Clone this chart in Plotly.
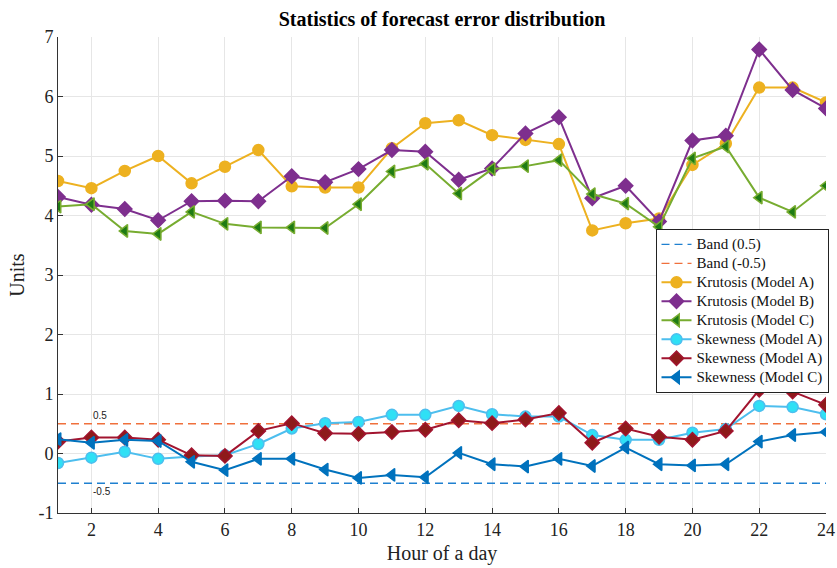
import plotly.graph_objects as go

hours = list(range(1, 25))

kurtosis_a = [4.58, 4.46, 4.75, 5.0, 4.54, 4.82, 5.1, 4.49, 4.47, 4.47, 5.13, 5.55,
              5.6, 5.35, 5.27, 5.2, 3.75, 3.87, 3.95, 4.85, 5.21, 6.15, 6.15, 5.9]
kurtosis_b = [4.31, 4.18, 4.11, 3.92, 4.24, 4.25, 4.24, 4.66, 4.56, 4.78, 5.1, 5.07,
              4.6, 4.79, 5.38, 5.65, 4.29, 4.5, 3.9, 5.26, 5.34, 6.79, 6.11, 5.8]
kurtosis_c = [4.15, 4.19, 3.74, 3.69, 4.06, 3.86, 3.8, 3.8, 3.79, 4.19, 4.74, 4.87,
              4.37, 4.78, 4.83, 4.93, 4.36, 4.2, 3.81, 4.96, 5.16, 4.3, 4.06, 4.5]
skewness_a = [-0.16, -0.07, 0.03, -0.09, -0.05, -0.03, 0.16, 0.42, 0.51, 0.53, 0.65, 0.65,
              0.8, 0.66, 0.62, 0.62, 0.31, 0.23, 0.23, 0.35, 0.41, 0.8, 0.78, 0.66]
skewness_a2 = [0.2, 0.27, 0.27, 0.23, -0.03, -0.04, 0.38, 0.51, 0.34, 0.33, 0.36, 0.4,
               0.56, 0.51, 0.57, 0.68, 0.18, 0.42, 0.28, 0.23, 0.38, 1.07, 1.04, 0.82]
skewness_c = [0.24, 0.18, 0.23, 0.21, -0.14, -0.28, -0.09, -0.09, -0.27, -0.41, -0.36, -0.4,
              0.01, -0.18, -0.22, -0.09, -0.21, 0.1, -0.18, -0.2, -0.18, 0.2, 0.31, 0.36]

band_low = -0.5
band_high = 0.5

x_ticks = list(range(2, 25, 2))
y_ticks = list(range(-1, 8))
y_ticktext = [str(v) for v in y_ticks]

SERIF = "'Liberation Serif', 'Times New Roman', Times, serif"


def legend_label(text):
    # larger glyphs than the legend's base font, which keeps the rows compact
    return f"<span style='font-size:15px'>{text}</span>"


fig = go.Figure()

# Reference bands
fig.add_trace(go.Scatter(x=[hours[0], hours[-1]], y=[band_low, band_low], mode="lines",
                         name=legend_label("Band (0.5)"),
                         line=dict(color="#1F80D0", width=1.3, dash="8px,5px")))
fig.add_trace(go.Scatter(x=[hours[0], hours[-1]], y=[band_high, band_high], mode="lines",
                         name=legend_label("Band (-0.5)"),
                         line=dict(color="#F0703C", width=1.3, dash="8px,5px")))

series = [
    ("Krutosis (Model A)", kurtosis_a, "#EDB120", "circle", "#EDB120", "#EDB120"),
    ("Krutosis (Model B)", kurtosis_b, "#7E2F8E", "diamond", "#7E2F8E", "#7E2F8E"),
    ("Krutosis (Model C)", kurtosis_c, "#77AC30", "triangle-left", "#1E7B14", "#77AC30"),
    ("Skewness (Model A)", skewness_a, "#4DBEEE", "circle", "#2FE0F5", "#4DBEEE"),
    ("Skewness (Model A)", skewness_a2, "#A2142F", "diamond", "#8E1A1A", "#A2142F"),
    ("Skewness (Model C)", skewness_c, "#0072BD", "triangle-left", "#0072BD", "#0072BD"),
]
for name, vals, lc, sym, fill, edge in series:
    fig.add_trace(go.Scatter(
        x=hours, y=vals, mode="lines+markers", name=legend_label(name),
        line=dict(color=lc, width=2),
        marker=dict(symbol=sym, size=11, color=fill, line=dict(color=edge, width=1.5)),
    ))

# Band value labels
fig.add_annotation(x=2, y=band_high, text="0.5", showarrow=False, xanchor="left",
                   yanchor="bottom", yshift=1, font=dict(family="Liberation Sans", size=10, color="#222"))
fig.add_annotation(x=2, y=band_low, text="-0.5", showarrow=False, xanchor="left",
                   yanchor="top", yshift=-1, font=dict(family="Liberation Sans", size=10, color="#222"))

fig.update_layout(
    width=837, height=568,
    margin=dict(l=58, r=11, t=37, b=55, autoexpand=False),
    plot_bgcolor="white", paper_bgcolor="white",
    font=dict(family=SERIF),
    title=dict(text="<b>Statistics of forecast error distribution</b>", x=0.5, xref="paper",
               xanchor="center", y=0.967, yanchor="middle",
               font=dict(family=SERIF, size=20, color="#000")),
    xaxis=dict(range=[1, 24], tickvals=x_ticks, ticks="inside", ticklen=5, tickcolor="#333",
               showline=True, linecolor="#333", linewidth=1, mirror=False,
               showgrid=True, gridcolor="#E6E6E6", gridwidth=1, zeroline=False,
               tickfont=dict(family=SERIF, size=18, color="#222"),
               title=dict(text="Hour of a day", font=dict(family=SERIF, size=20, color="#222"),
                          standoff=7)),
    yaxis=dict(range=[-1, 7], tickvals=y_ticks, ticktext=y_ticktext, ticks="inside", ticklen=5,
               tickcolor="#333",
               showline=True, linecolor="#333", linewidth=1, mirror=False,
               showgrid=True, gridcolor="#E6E6E6", gridwidth=1, zeroline=False,
               tickfont=dict(family=SERIF, size=18, color="#222"),
               title=dict(text="Units", font=dict(family=SERIF, size=20, color="#222"),
                          standoff=8)),
    legend=dict(x=0.778, y=0.597, xanchor="left", yanchor="top",
                bgcolor="white", bordercolor="#222", borderwidth=1,
                font=dict(family=SERIF, size=11.6, color="#111"),
                tracegroupgap=0, itemwidth=30),
    showlegend=True,
)

fig.write_html("out.html")
